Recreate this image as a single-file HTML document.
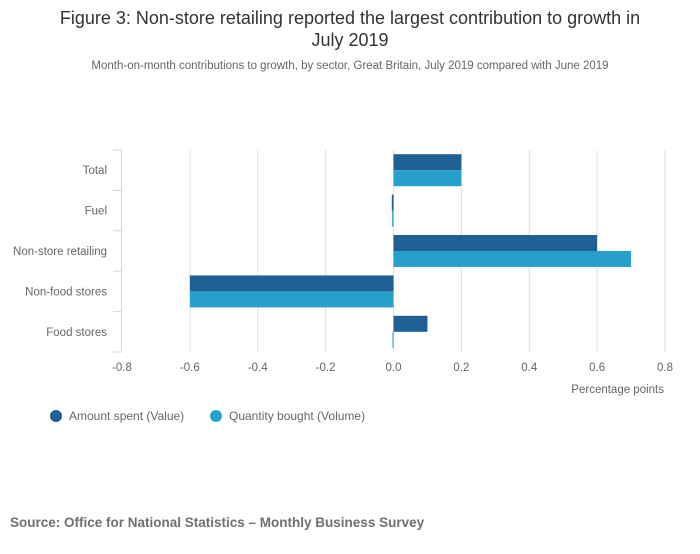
<!DOCTYPE html>
<html><head><meta charset="utf-8"><style>
body{margin:0;background:#fff;font-family:"Liberation Sans",sans-serif;}
svg text{font-family:"Liberation Sans",sans-serif;}
</style></head><body>
<svg width="700" height="549" xmlns="http://www.w3.org/2000/svg">
<text x="350" y="24" text-anchor="middle" font-size="18" fill="#333">Figure 3: Non-store retailing reported the largest contribution to growth in</text>
<text x="350" y="46" text-anchor="middle" font-size="18" fill="#333">July 2019</text>
<text x="350" y="69" text-anchor="middle" font-size="11.5" fill="#666">Month-on-month contributions to growth, by sector, Great Britain, July 2019 compared with June 2019</text>
<g id="grid"></g>
<g id="bars"></g>
<g id="axes"></g>
<text x="664" y="393" text-anchor="end" font-size="11.5" fill="#666">Percentage points</text>
<g><circle cx="56" cy="416" r="6" fill="#206095"/><text x="69" y="420" font-size="12" fill="#666">Amount spent (Value)</text></g>
<g><circle cx="216" cy="416" r="6" fill="#27a0cc"/><text x="229" y="420" font-size="12" fill="#666">Quantity bought (Volume)</text></g>
<text x="10" y="527" font-size="13.5" font-weight="bold" fill="#707070">Source: Office for National Statistics – Monthly Business Survey</text>
</svg>
<script>
const categories=["Total","Fuel","Non-store retailing","Non-food stores","Food stores"];
const valueSeries=[0.2,-0.005,0.6,-0.6,0.1];
const volumeSeries=[0.2,-0.004,0.7,-0.6,-0.003];
const ticks=[-0.8,-0.6,-0.4,-0.2,0.0,0.2,0.4,0.6,0.8];
const tickLabels=["-0.8","-0.6","-0.4","-0.2","0.0","0.2","0.4","0.6","0.8"];
const NS="http://www.w3.org/2000/svg";
const x0=122,x1=665,vmin=-0.8,vmax=0.8,plotTop=150,plotBottom=352;
const xs=v=>x0+(v-vmin)/(vmax-vmin)*(x1-x0);
const band=(plotBottom-plotTop)/categories.length;
function mk(t,a,p){const e=document.createElementNS(NS,t);for(const k in a)e.setAttribute(k,a[k]);p.appendChild(e);return e;}
const grid=document.getElementById('grid'),bars=document.getElementById('bars'),axes=document.getElementById('axes');
ticks.forEach((t,i)=>{
 if(i>0){const l=mk('line',{x1:xs(t),x2:xs(t),y1:plotTop,y2:plotBottom,stroke:'#e0e0e0','stroke-width':1},grid);
 
 }
 const tx=mk('text',{x:xs(t),y:371,'text-anchor':'middle','font-size':'11.5',fill:'#666'},axes);tx.textContent=tickLabels[i];
 
 
});
const ax=mk('line',{x1:121.5,x2:121.5,y1:plotTop,y2:plotBottom,stroke:'#ccd6eb','stroke-width':1},axes);


for(let i=0;i<=categories.length;i++){const y=plotTop+i*band;mk('line',{x1:113,x2:122,y1:y,y2:y,stroke:'#ccd6eb'},axes);}
categories.forEach((c,i)=>{
 const yc=plotTop+band*(i+0.5);
 const t=mk('text',{x:107,y:yc+4,'text-anchor':'end','font-size':'11.5',fill:'#666'},axes);t.textContent=c;
 
 
 [[valueSeries,'#206095',-16],[volumeSeries,'#27a0cc',0]].forEach(([s,col,off])=>{
  const v=s[i],a=xs(0),b=xs(v);
  const r=mk('rect',{x:Math.min(a,b),y:yc+off,width:Math.max(Math.abs(b-a),1),height:16,fill:col},bars);
  
  
 });
});
</script>
</body></html>
